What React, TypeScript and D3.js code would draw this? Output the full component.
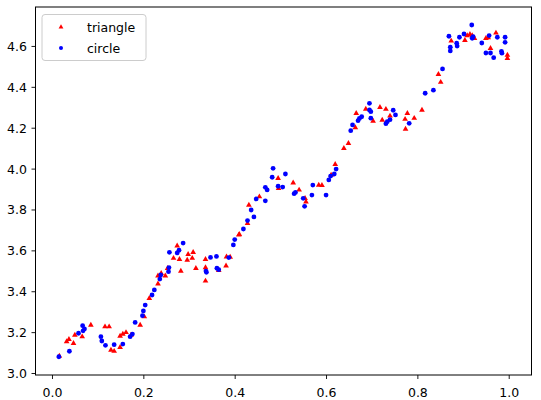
import React from "react";
import * as d3 from "d3";

const triX = [0.015,0.031,0.036,0.046,0.049,0.065,0.084,0.115,0.124,0.128,0.135,0.148,0.148,0.154,0.161,0.172,0.192,0.201,0.212,0.231,0.231,0.238,0.247,0.252,0.265,0.273,0.278,0.281,0.295,0.297,0.306,0.308,0.314,0.335,0.335,0.335,0.364,0.380,0.381,0.389,0.408,0.409,0.427,0.430,0.453,0.494,0.495,0.527,0.540,0.553,0.555,0.583,0.590,0.610,0.619,0.638,0.648,0.663,0.665,0.686,0.702,0.717,0.722,0.730,0.739,0.772,0.773,0.777,0.792,0.809,0.845,0.850,0.873,0.903,0.908,0.914,0.919,0.924,0.949,0.954,0.959,0.971,0.996,0.996];
const triY = [3.085,3.156,3.167,3.148,3.188,3.180,3.237,3.229,3.229,3.115,3.109,3.128,3.183,3.193,3.201,3.188,3.237,3.278,3.368,3.439,3.478,3.490,3.478,3.515,3.564,3.625,3.559,3.501,3.555,3.583,3.564,3.593,3.515,3.559,3.518,3.453,3.505,3.527,3.571,3.570,3.678,3.681,3.735,3.824,3.865,3.955,3.906,3.933,3.898,3.857,3.840,3.922,3.921,3.971,4.023,4.102,4.126,4.203,4.273,4.294,4.235,4.302,4.240,4.293,4.260,4.244,4.196,4.273,4.249,4.289,4.464,4.425,4.627,4.630,4.653,4.659,4.653,4.640,4.640,4.643,4.591,4.666,4.558,4.542];

const cirX = [0.014,0.037,0.057,0.066,0.067,0.070,0.106,0.108,0.116,0.135,0.154,0.170,0.175,0.181,0.197,0.199,0.203,0.218,0.223,0.235,0.237,0.254,0.255,0.256,0.273,0.277,0.286,0.336,0.337,0.346,0.359,0.360,0.364,0.386,0.396,0.399,0.418,0.427,0.435,0.441,0.446,0.466,0.466,0.470,0.481,0.483,0.494,0.504,0.510,0.529,0.532,0.549,0.552,0.568,0.570,0.599,0.605,0.609,0.617,0.621,0.653,0.657,0.669,0.672,0.677,0.694,0.694,0.697,0.697,0.730,0.733,0.739,0.746,0.751,0.781,0.816,0.834,0.854,0.868,0.871,0.871,0.885,0.886,0.891,0.901,0.918,0.919,0.921,0.940,0.949,0.956,0.959,0.966,0.974,0.983,0.984,0.991,0.991];
const cirY = [3.082,3.109,3.197,3.234,3.209,3.218,3.180,3.159,3.138,3.141,3.144,3.180,3.193,3.250,3.283,3.306,3.335,3.384,3.409,3.462,3.482,3.498,3.518,3.593,3.590,3.603,3.638,3.501,3.495,3.568,3.573,3.515,3.508,3.567,3.629,3.655,3.707,3.748,3.800,3.766,3.854,3.845,3.911,3.898,3.960,4.004,3.916,3.912,3.976,3.880,3.886,3.857,3.818,3.873,3.922,3.873,3.947,3.966,3.976,4.000,4.188,4.216,4.237,4.248,4.256,4.322,4.289,4.281,4.249,4.222,4.232,4.242,4.288,4.265,4.224,4.371,4.386,4.490,4.650,4.596,4.578,4.616,4.602,4.645,4.661,4.705,4.640,4.648,4.617,4.568,4.653,4.568,4.545,4.645,4.576,4.567,4.645,4.620];

const xTicks = [0.0, 0.2, 0.4, 0.6, 0.8, 1.0];
const yTicks = [3.0, 3.2, 3.4, 3.6, 3.8, 4.0, 4.2, 4.4, 4.6];
const seriesNames = ["triangle", "circle"];
const seriesColors = ["#ff0000", "#0000ff"];

const W = 541, H = 400;
const L = 35.5, R = 531.5, T = 7, B = 375;
const FONT = "DejaVu Sans, sans-serif";

export default function App() {
  const x = d3.scaleLinear().domain([-0.0372, 1.0488]).range([L, R]);
  const y = d3.scaleLinear().domain([2.9927, 4.793]).range([B, T]);
  const tri = d3.symbol().type(d3.symbolTriangle).size(14)();
  const triSmall = d3.symbol().type(d3.symbolTriangle).size(10)();
  const fmt = d3.format(".1f");
  return (
    <svg width={W} height={H} style={{ position: "absolute", left: 0, top: 0, background: "#fff" }}>
      <rect x={0} y={0} width={W} height={H} fill="#fff" />
      {triX.map((v, i) => (
        <path key={"t" + i} d={tri!} transform={`translate(${x(v)},${y(triY[i])})`} fill={seriesColors[0]} />
      ))}
      {cirX.map((v, i) => (
        <circle key={"c" + i} cx={x(v)} cy={y(cirY[i])} r={2.4} fill={seriesColors[1]} />
      ))}
      <rect x={L} y={T} width={R - L} height={B - T} fill="none" stroke="#000" strokeWidth={1} />
      {xTicks.map((t) => (
        <g key={"x" + t} transform={`translate(${x(t)},0)`}>
          <line y1={B} y2={B + 4} stroke="#000" strokeWidth={0.9} />
          <text y={396.5} textAnchor="middle" fontFamily={FONT} fontSize={12.5} fill="#000">{fmt(t)}</text>
        </g>
      ))}
      {yTicks.map((t) => (
        <g key={"y" + t} transform={`translate(0,${y(t)})`}>
          <line x1={L - 4} x2={L} stroke="#000" strokeWidth={0.9} />
          <text x={27} dy="0.36em" textAnchor="end" fontFamily={FONT} fontSize={12.5} fill="#000">{fmt(t)}</text>
        </g>
      ))}
      <g>
        <rect x={42} y={14.5} width={104} height={46} rx={3} fill="#fff" fillOpacity={0.8} stroke="#ccc" strokeWidth={1} />
        <path d={triSmall!} transform="translate(61,27)" fill={seriesColors[0]} />
        <text x={87} y={27} dy="0.36em" fontFamily={FONT} fontSize={12.5} fill="#000">{seriesNames[0]}</text>
        <circle cx={61} cy={48} r={2} fill={seriesColors[1]} />
        <text x={87} y={48} dy="0.36em" fontFamily={FONT} fontSize={12.5} fill="#000">{seriesNames[1]}</text>
      </g>
    </svg>
  );
}
